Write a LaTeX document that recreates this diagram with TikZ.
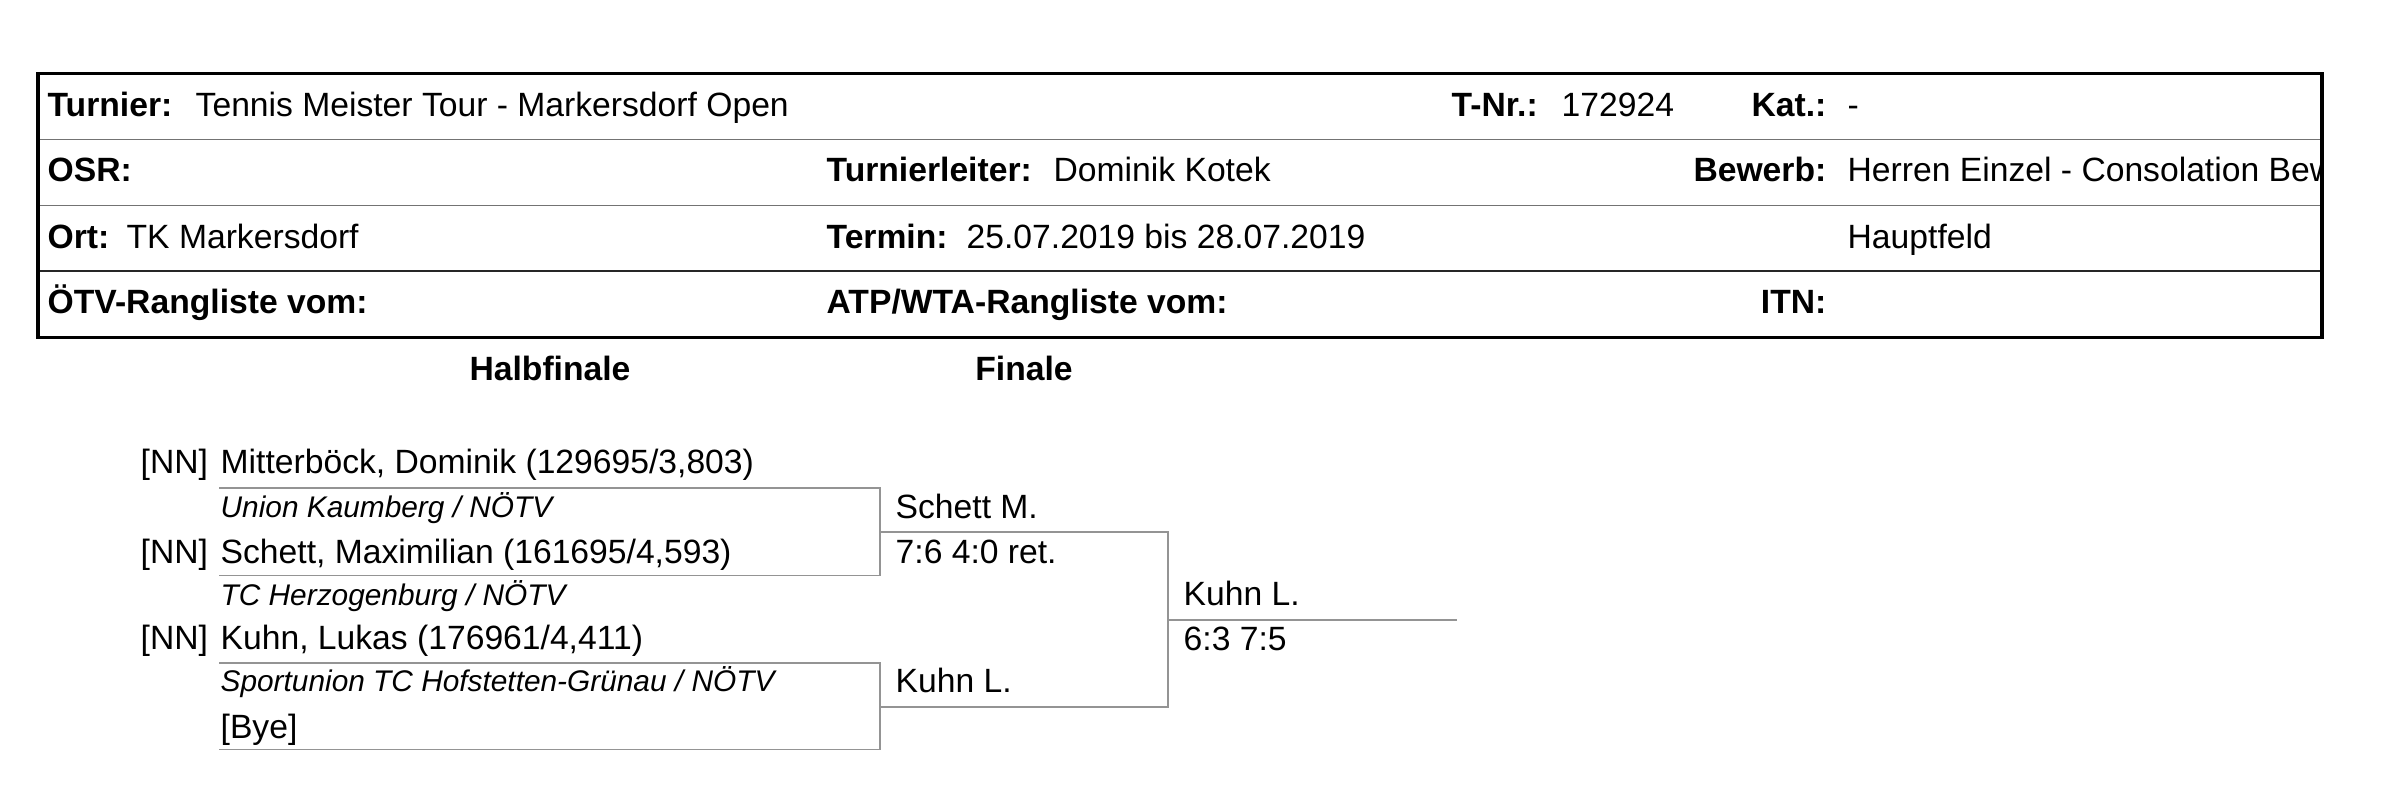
\documentclass[tikz,border=0pt]{standalone}
\usepackage{fontspec}
\setmainfont{Liberation Sans}
\begin{document}
\begin{tikzpicture}[x=0.3pt,y=-0.3pt,
  txt/.style={inner sep=0pt, anchor=base west, font=\fontsize{10.1}{12}\selectfont},
  lbl/.style={inner sep=0pt, anchor=base west, font=\fontsize{10.1}{12}\selectfont\bfseries},
  lblr/.style={lbl, anchor=base east},
  hdr/.style={inner sep=0pt, anchor=base, font=\fontsize{10.1}{12}\selectfont\bfseries},
  club/.style={inner sep=0pt, anchor=base west, font=\fontsize{8.95}{11}\selectfont\itshape},
  outerline/.style={draw=black, line width=0.95pt},
  graysep/.style={draw=black!55, line width=0.55pt},
  darksep/.style={draw=black!85, line width=0.6pt},
  brk/.style={draw=black!42, line width=0.55pt}]
\useasboundingbox (0,0) rectangle (2390,786);

% header table
\draw[graysep] (38,139.5) -- (2322,139.5);
\draw[graysep] (38,205.5) -- (2322,205.5);
\draw[darksep] (38,271.5) -- (2322,271.5);
\draw[outerline] (38,73.5) rectangle (2322,337.5);

% row 1
\node[lbl] (turL) at (47,116.5) {Turnier:};
\node[txt] (turV) at (195,116.5) {Tennis Meister Tour - Markersdorf Open};
\node[lbl] (tnrL) at (1451,116.5) {T-Nr.:};
\node[txt] (tnrV) at (1561,116.5) {172924};
\node[lblr] (katL) at (1827,116.5) {Kat.:};
\node[txt] (katV) at (1847,116.5) {-};
% row 2
\node[lbl] (osrL) at (47,182) {OSR:};
\node[lbl] (tlL) at (826,182) {Turnierleiter:};
\node[txt] (tlV) at (1053,182) {Dominik Kotek};
\node[lblr] (bewL) at (1827,182) {Bewerb:};
\begin{scope}
\clip (1840,140) rectangle (2319,205);
\node[txt] (bewV) at (1847,182) {Herren Einzel - Consolation Bewerb};
\end{scope}
% row 3
\node[lbl] (ortL) at (47,248) {Ort:};
\node[txt] (ortV) at (126,248) {TK Markersdorf};
\node[lbl] (terL) at (826,248) {Termin:};
\node[txt] (terV) at (966,248) {25.07.2019 bis 28.07.2019};
\node[txt] (hfV) at (1847,248) {Hauptfeld};
% row 4
\node[lbl] (oetvL) at (47,313.5) {ÖTV-Rangliste vom:};
\node[lbl] (atpL) at (826,313.5) {ATP/WTA-Rangliste vom:};
\node[lblr] (itnL) at (1827,313.5) {ITN:};

% round headers
\node[hdr] (rd1) at (550,380) {Halbfinale};
\node[hdr] (rd2) at (1024,380) {Finale};

% players
\node[txt] (s1) at (140,473) {[NN]};
\node[txt] (p1) at (220,473) {Mitterböck, Dominik (129695/3,803)};
\node[club] (k1) at (220,517) {Union Kaumberg / NÖTV};
\node[txt] (s2) at (140,563) {[NN]};
\node[txt] (p2) at (220,563) {Schett, Maximilian (161695/4,593)};
\node[club] (k2) at (220,605) {TC Herzogenburg / NÖTV};
\node[txt] (s3) at (140,649) {[NN]};
\node[txt] (p3) at (220,649) {Kuhn, Lukas (176961/4,411)};
\node[club] (k3) at (220,691) {Sportunion TC Hofstetten-Grünau / NÖTV};
\node[txt] (p4) at (220,738) {[Bye]};

% results
\node[txt] (w1) at (895,518) {Schett M.};
\node[txt] (r1) at (895,563) {7:6 4:0 ret.};
\node[txt] (w2) at (895,692) {Kuhn L.};
\node[txt] (wf) at (1183,605) {Kuhn L.};
\node[txt] (rf) at (1183,650) {6:3 7:5};

% bracket corners
\coordinate (a1) at (219,488);
\coordinate (a2) at (880,488);
\coordinate (b1) at (219,575.5);
\coordinate (b2) at (880,575.5);
\coordinate (c1) at (219,663);
\coordinate (c2) at (880,663);
\coordinate (d1) at (219,749.5);
\coordinate (d2) at (880,749.5);
\coordinate (e1) at (880,532);
\coordinate (e2) at (1168,532);
\coordinate (f1) at (880,707);
\coordinate (f2) at (1168,707);
\coordinate (g1) at (1168,620);
\coordinate (g2) at (1457,620);

\draw[brk] (a1) -- (a2) -- (b2) -- (b1);
\draw[brk] (c1) -- (c2) -- (d2) -- (d1);
\draw[brk] (e1) -- (e2) -- (f2) -- (f1);
\draw[brk] (g1) -- (g2);
\end{tikzpicture}
\end{document}
